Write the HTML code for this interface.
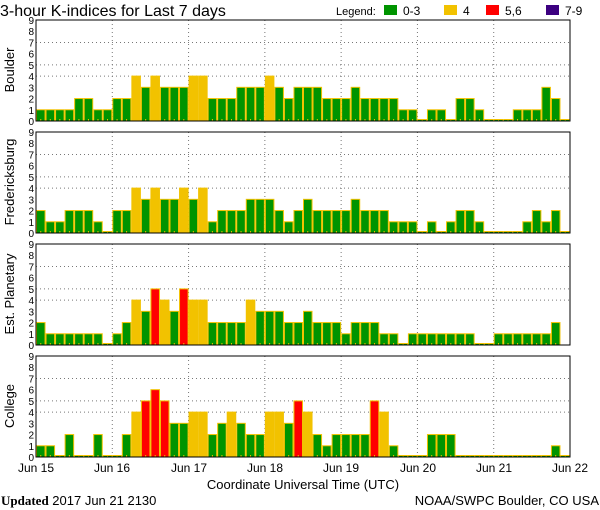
<!DOCTYPE html>
<html><head><meta charset="utf-8"><style>
html,body{margin:0;padding:0;background:#fff;width:600px;height:510px;overflow:hidden}
svg{display:block}
text{font-family:"Liberation Sans",sans-serif;fill:#000}
</style></head><body>
<svg id="s" width="600" height="510" xmlns="http://www.w3.org/2000/svg">
<g id="panels"></g>
<text x="0" y="16" font-size="16">3-hour K-indices for Last 7 days</text>
<text x="336" y="15" font-size="11">Legend:</text>
<rect x="384" y="5" width="13" height="10" fill="#009400"/><text x="403" y="15" font-size="12">0-3</text>
<rect x="444" y="5" width="13" height="10" fill="#f2c200"/><text x="463" y="15" font-size="12">4</text>
<rect x="486" y="5" width="13" height="10" fill="#ff0000"/><text x="505" y="15" font-size="12">5,6</text>
<rect x="546" y="5" width="13" height="10" fill="#3c0080"/><text x="565" y="15" font-size="12">7-9</text>
<text transform="translate(14,70) rotate(-90)" font-size="13" text-anchor="middle">Boulder</text>
<text transform="translate(14,182) rotate(-90)" font-size="13" text-anchor="middle">Fredericksburg</text>
<text transform="translate(14,294) rotate(-90)" font-size="13" text-anchor="middle">Est. Planetary</text>
<text transform="translate(14,406) rotate(-90)" font-size="13" text-anchor="middle">College</text>
<g font-size="12" text-anchor="middle">
<text x="36" y="472">Jun 15</text><text x="112" y="472">Jun 16</text><text x="189" y="472">Jun 17</text><text x="265" y="472">Jun 18</text><text x="341" y="472">Jun 19</text><text x="418" y="472">Jun 20</text><text x="494" y="472">Jun 21</text><text x="570" y="472">Jun 22</text>
</g>
<text x="303" y="489" font-size="13" text-anchor="middle">Coordinate Universal Time (UTC)</text>
<text x="1" y="505" font-size="13"><tspan font-family="Liberation Serif" font-weight="bold">Updated</tspan> 2017 Jun 21 2130</text>
<text x="599" y="505" font-size="13" text-anchor="end">NOAA/SWPC Boulder, CO USA</text>
</svg>
<script>
(function(){
var data=[
[1,1,1,1,2,2,1,1, 2,2,4,3,4,3,3,3, 4,4,2,2,2,3,3,3, 4,3,2,3,3,3,2,2, 2,3,2,2,2,2,1,1, 0,1,1,0,2,2,1,0, 0,0,1,1,1,3,2,0],
[2,1,1,2,2,2,1,0, 2,2,4,3,4,3,3,4, 3,4,1,2,2,2,3,3, 3,2,1,2,3,2,2,2, 2,3,2,2,2,1,1,1, 0,1,0,1,2,2,1,0, 0,0,0,1,2,1,2,0],
[2,1,1,1,1,1,1,0, 1,2,4,3,5,4,3,5, 4,4,2,2,2,2,4,3, 3,3,2,2,3,2,2,2, 1,2,2,2,1,1,0,1, 1,1,1,1,1,1,0,0, 1,1,1,1,1,1,2,-1],
[1,1,0,2,0,0,2,0, 0,2,4,5,6,5,3,3, 4,4,2,3,4,3,2,2, 4,4,3,5,4,2,1,2, 2,2,2,5,4,1,0,0, 0,2,2,2,0,0,0,0, 0,0,0,0,0,0,1,0]];
var ns="http://www.w3.org/2000/svg",g=document.getElementById("panels");
function el(t,a){var e=document.createElementNS(ns,t);for(var k in a)e.setAttribute(k,a[k]);g.appendChild(e);return e;}
var x0=36,x1=570,bw=(x1-x0)/56,u=101/9;
for(var p=0;p<4;p++){
 var pt=20+112*p,bot=pt+101;
 [4,5,7].forEach(function(v){el("line",{x1:x0,x2:x1,y1:bot-v*u,y2:bot-v*u,stroke:"#777","stroke-dasharray":"1,3"});});
 for(var d=1;d<7;d++){var x=x0+d*bw*8;el("line",{x1:x,x2:x,y1:pt,y2:bot,stroke:"#777","stroke-dasharray":"1,3"});}
 for(var i=0;i<56;i++){var v=data[p][i];if(v<0)continue;
  var c=v<=3?"#009400":v==4?"#f2c200":v<=6?"#ff0000":"#3c0080";
  var h=v==0?1.5:v*u;var xx=x0+i*bw;
  el("rect",{x:xx+0.5,y:bot-h,width:bw-1,height:h,fill:c,stroke:"#f2c200","stroke-width":1});
  el("line",{x1:xx+bw/2,x2:xx+bw/2,y1:bot-2,y2:bot,stroke:"#f2c200"});
 }
 el("rect",{x:x0,y:pt,width:x1-x0,height:101,fill:"none",stroke:"#000","stroke-width":1});
 for(var v2=0;v2<=9;v2++){var t=el("text",{x:34,y:bot-v2*u+4,"font-size":"10","text-anchor":"end"});t.textContent=v2;}
}
})();
</script>
</body></html>
